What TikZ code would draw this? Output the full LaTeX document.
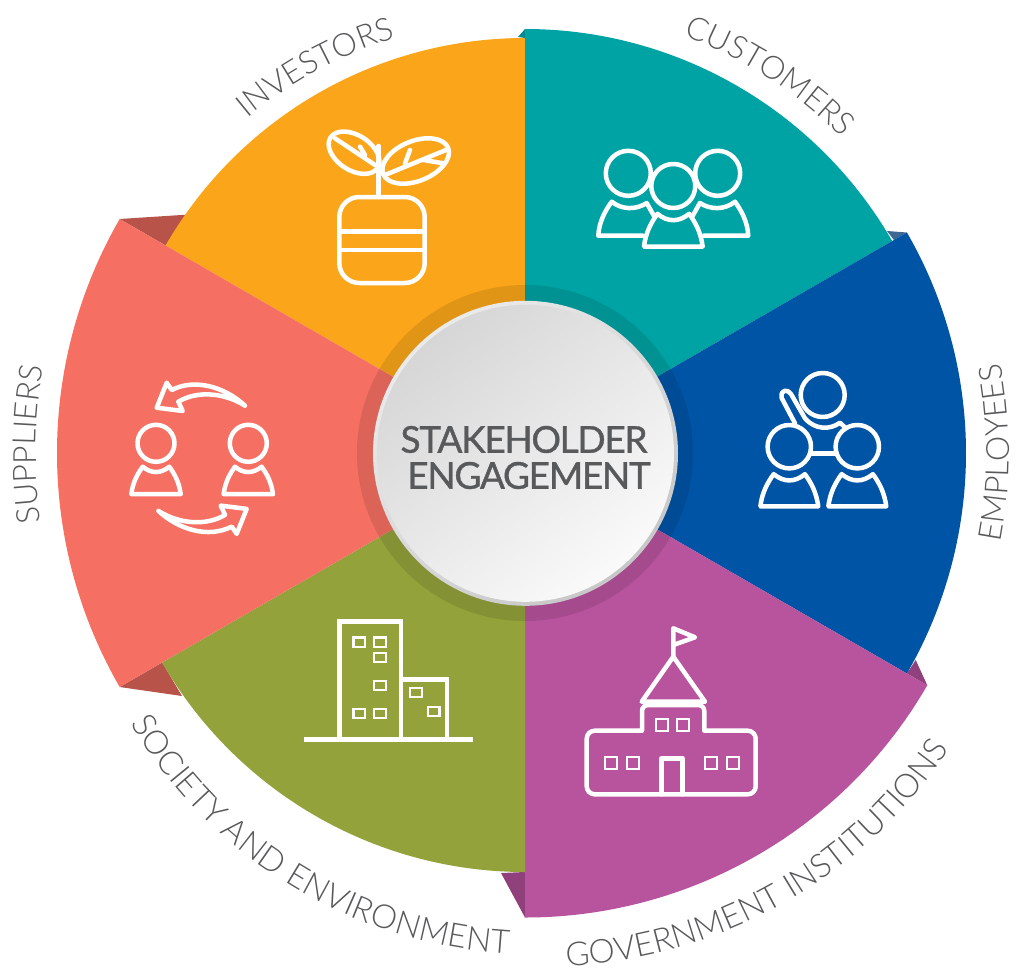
\documentclass[tikz,border=0pt]{standalone}
\usepackage{fontspec}
\usepackage{tikz}
\usetikzlibrary{calc, decorations.text}
\setmainfont{Lato}
\newfontfamily\hubfont{Lato}[LetterSpace=-3.5, FakeBold=1]
\newfontfamily\rimfont{Lato Light}
\definecolor{investors}{HTML}{FBA61A}
\definecolor{customers}{HTML}{00A3A4}
\definecolor{employees}{HTML}{0054A6}
\definecolor{government}{HTML}{B8539E}
\definecolor{society}{HTML}{93A23A}
\definecolor{suppliers}{HTML}{F56F63}
\definecolor{foldblue}{HTML}{3F6794}
\definecolor{inktext}{HTML}{58595B}

\begin{document}
\begin{tikzpicture}[
    x=1pt, y=1pt,
    iconline/.style={draw=white, line width=4.5pt, line join=round, line cap=round},
    thinline/.style={draw=white, line width=2.2pt},
    rimtext/.style={decorate, decoration={text along path, text align=center,
        text={|\rimfont\fontsize{32}{32}\selectfont\color{inktext}|#1}}},
    longrimtext/.style={decorate, decoration={text along path, text align=center,
        text={|\rimfont\fontsize{33}{33}\selectfont\color{inktext}|#1}}},
    personpic/.style={transform shape, scale=#1},
    person/.pic={
        \draw[iconline] (0,0) circle (20);
        \draw[iconline] (-26.7,55) -- (26.7,55) .. controls (25,42) and (20,33) .. (14.4,25.3)
            .. controls (5,33) and (-5,33) .. (-14.4,25.3) .. controls (-20,33) and (-25,42) .. cycle;
    }
]
    \useasboundingbox (-525,-514) rectangle (491,453);

    % Folded corners behind the sectors
    \fill[suppliers!75!black] (150:468) -- (150:415) -- (-339,238.3) -- cycle;
    \fill[suppliers!75!black] (210:468) -- (210:419) -- (-343,-243) -- cycle;
    \fill[government!78!black] (270:464.5) -- (270:419) -- (-24,-420) -- cycle;
    \fill[government!78!black] (-30:464.5) -- (-30:441) -- (390.7,-207) -- cycle;
    \fill[foldblue] (30:441) -- (30:426) -- (362,222) -- cycle;
    \fill[customers!85!black] (90:424) -- (90:415) -- (-7,416) -- cycle;

    % Sectors
    \foreach \sector/\rad/\ang in {investors/415/90, customers/424/30, employees/441/-30,
        government/464.5/-90, society/419/210, suppliers/468/150}
        \fill[\sector] (0,0) -- (\ang:\rad) arc[start angle=\ang, delta angle=60, radius=\rad] -- cycle;

    % Center disc
    \fill[black, opacity=0.1] (0,0) circle (168);
    \node[circle, minimum size=305pt, inner sep=0pt, top color=white!92!black, bottom color=white!78!black, shading angle=40] (rim) at (0.5,-0.3) {};
    \node[circle, minimum size=297pt, inner sep=0pt, top color=white!84!black, bottom color=white!98!black, shading angle=40] (hub) at (rim.center) {};
    \node[font=\hubfont\fontsize{37}{36}\selectfont, text=inktext, align=center, inner sep=0pt] (hubtext) at (-1,-4.5)
        {STAKEHOLDER\\\kern10pt ENGAGEMENT};

    % Rim labels
    \path[rimtext={INVESTORS}] (142:435) arc[start angle=142, delta angle=-47, radius=435];
    \path[rimtext={CUSTOMERS}] (80:447) arc[start angle=80, delta angle=-46, radius=447];
    \path[rimtext={EMPLOYEES}] (-24:484) arc[start angle=-24, delta angle=48, radius=484];
    \path[longrimtext={GOVERNMENT INSTITUTIONS}] ($(18.9,-26.5)+(-90.5:487)$) arc[start angle=-90.5, delta angle=60, radius=487];
    \path[longrimtext={SOCIETY AND ENVIRONMENT}] ($(11.5,-29)+(208.7:472.5)$) arc[start angle=208.7, delta angle=60, radius=472.5];
    \path[rimtext={SUPPLIERS}] (203:489) arc[start angle=203, delta angle=-48, radius=489];

    % Icons, in reference pixels
    \begin{scope}[shift={(-525,453)}, yscale=-1]
        % Seedling
        \draw[iconline] (339.3,217) arc[start angle=180, delta angle=90, radius=20] -- (404.7,197)
            arc[start angle=270, delta angle=90, radius=20] -- (424.7,263)
            arc[start angle=0, delta angle=90, radius=20] -- (359.3,283)
            arc[start angle=90, delta angle=90, radius=20] -- cycle;
        \draw[iconline] (339.3,231.7) -- (424.7,231.7) (339.3,250) -- (424.7,250);
        \draw[iconline] (378.7,197) -- (378.7,146);
        \draw[iconline, rotate around={33:(354,152.7)}] (354,152.7) ellipse (28 and 17.5);
        \draw[iconline, rotate around={-22:(415.7,161)}] (415.7,161) ellipse (35 and 20);
        \draw[iconline] (335,138.3) -- (375,165) (360,146.7) -- (365,155);
        \draw[iconline] (385,175) -- (446,150) (405,163.3) -- (410,150) (423.3,160) -- (443.3,163.3);

        % Customers
        \draw[iconline] (628.3,173.3) circle (22.5) (717.7,173.3) circle (22.5);
        \draw[iconline] (643,235.7) -- (598.3,235.7) .. controls (599,222) and (605,211) .. (611.7,201.7)
            .. controls (622,210) and (636,210) .. (646.7,203) -- (654,216);
        \draw[iconline] (703.6,235.7) -- (748.3,235.7) .. controls (747.6,222) and (741.6,211) .. (735,201.7)
            .. controls (724.6,210) and (710.6,210) .. (699.9,203) -- (692.6,216);
        \pic[personpic=1.1] at (673.3,186) {person};

        % Employees
        \pic[personpic=1.085] at (789.3,446.7) {person};
        \pic[personpic=1.085] at (857.3,446.7) {person};
        \draw[iconline] (822.7,395) circle (22);
        \draw[iconline] (812,453.3) -- (836,453.3);
        \draw[iconline] (795,423.3) -- (781.7,398) .. controls (780,389) and (788,389) .. (791,394) -- (805,418.3)
            .. controls (815,430) and (830,430) .. (840,422.7) -- (846,428.3);

        % Government building
        \draw[iconline] (673.3,656.7) -- (673.3,628.3) -- (695,637.3) -- (673.3,645);
        \draw[iconline] (641.7,701.7) -- (673.3,656.7) -- (705,701.7) -- cycle;
        \draw[iconline] (642,730.7) -- (642,711) arc[start angle=180, delta angle=90, radius=6] -- (698.3,705)
            arc[start angle=270, delta angle=90, radius=6] -- (704.3,730.7) -- (747.7,730.7)
            arc[start angle=270, delta angle=90, radius=8] -- (755.7,786.3)
            arc[start angle=0, delta angle=90, radius=8] -- (594.7,794.3)
            arc[start angle=90, delta angle=90, radius=8] -- (586.7,738.7)
            arc[start angle=180, delta angle=90, radius=8] -- cycle;
        \draw[iconline] (661.7,794.3) -- (661.7,758.3) -- (682.7,758.3) -- (682.7,794.3);
        \foreach \wx/\wy in {661.7/725, 683.3/725, 611/763, 632.7/763, 711/763, 732.7/763}
            \draw[thinline] (\wx-6,\wy-6) rectangle (\wx+6,\wy+6);

        % Society buildings
        \draw[iconline, line cap=butt, line join=miter] (304,739.3) -- (473.3,739.3);
        \draw[iconline, line cap=butt, line join=miter] (339.3,739.3) -- (339.3,621.5) -- (401,621.5) -- (401,739.3);
        \draw[iconline, line cap=butt, line join=miter] (401,679.3) -- (447,679.3) -- (447,739.3);
        \foreach \wx/\wy in {359.3/642, 380/642, 380/657.7, 380/685.7, 359.3/713.3, 380/713.3, 416/692.3, 433.7/711.7}
            \draw[thinline] (\wx-5.7,\wy-4.6) rectangle (\wx+5.7,\wy+4.6);

        % Suppliers
        \pic[personpic=0.925] at (156,443.3) {person};
        \pic[personpic=0.925] at (248.3,443.3) {person};
        \draw[iconline] (245,405.7) .. controls (225,387) and (195,378) .. (171.7,390) -- (166.7,382.7) -- (156.7,407.7) -- (182.7,411)
            -- (178.3,401.7) .. controls (198,390) and (225,393) .. cycle;
        \draw[iconline, rotate around={180:(201.7,458.3)}] (245,405.7) .. controls (225,387) and (195,378) .. (171.7,390) -- (166.7,382.7) -- (156.7,407.7) -- (182.7,411)
            -- (178.3,401.7) .. controls (198,390) and (225,393) .. cycle;
    \end{scope}
\end{tikzpicture}
\end{document}
